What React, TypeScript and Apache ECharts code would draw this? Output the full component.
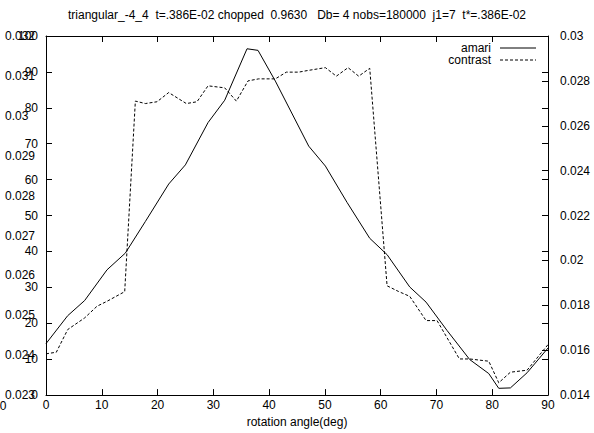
import React, { useEffect, useRef } from "react";
import * as echarts from "echarts";

const titleText =
  "triangular_-4_4  t=.386E-02 chopped  0.9630   Db= 4 nobs=180000  j1=7  t*=.386E-02";
const xAxisName = "rotation angle(deg)";
const seriesNames = ["amari", "contrast"];

const amariAngles = [
  0, 3.89, 6.93, 10.94, 14.23, 17.81, 22.0, 24.99, 29.05, 32.04, 36.04, 38.01,
  41.12, 47.1, 50.09, 53.97, 58.04, 61.15, 65.21, 68.14, 71.9, 75.97, 79.38,
  81.17, 83.26, 86.25, 90,
];
const amariValues = [
  0.02429, 0.02499, 0.02537, 0.02614, 0.02656, 0.02735, 0.02829, 0.02877,
  0.02983, 0.03039, 0.03168, 0.03164, 0.03087, 0.02924, 0.02874, 0.02783,
  0.02693, 0.02652, 0.02571, 0.02533, 0.02462, 0.02389, 0.02354, 0.02317,
  0.02318, 0.02356, 0.02418,
];

const contrastAngles = [
  0, 1.85, 3.89, 6.93, 9.15, 10.94, 14.11, 16.02, 17.81, 19.9, 22.0, 25.16,
  27.07, 29.05, 32.04, 34.13, 36.22, 38.13, 41.12, 43.09, 45.3, 47.1, 50.09,
  52.06, 54.15, 56.06, 58.04, 61.15, 63.18, 65.21, 68.14, 70.11, 74.12, 75.97,
  79.38, 81.17, 83.26, 86.25, 90,
];
const contrastValues = [
  0.01584, 0.01591, 0.01692, 0.01744, 0.01796, 0.01818, 0.01861, 0.0271,
  0.02699, 0.02707, 0.02748, 0.02699, 0.02707, 0.02778, 0.02769, 0.0271,
  0.028, 0.02809, 0.02809, 0.02839, 0.02839, 0.02847, 0.02859, 0.02821,
  0.02859, 0.02821, 0.02856, 0.01887, 0.01862, 0.0184, 0.01732, 0.01732,
  0.01561, 0.01561, 0.01551, 0.01455, 0.01502, 0.01511, 0.01625,
];

// axis ranges
const xRange = [0, 90, 10];
const yPercentRange = [0, 100, 10];
const yLeftRange = [0.023, 0.032, 0.001];
const yRightRange = [0.014, 0.03, 0.002];

const FONT = "'Liberation Sans', Arial, sans-serif";
const FS = 12;
const fmt = (v: number) => String(+Number(v).toFixed(3));

export default function App() {
  const ref = useRef<HTMLDivElement>(null);
  useEffect(() => {
    if (!ref.current) return;
    const chart = echarts.init(ref.current, null, { renderer: "svg" });
    const lineCol = "#000";
    const tickLen = 6;
    chart.setOption({
      animation: false,
      backgroundColor: "#fff",
      textStyle: { fontFamily: FONT },
      title: {
        text: titleText,
        left: "center",
        top: 4,
        textStyle: {
          fontFamily: FONT,
          fontSize: FS,
          fontWeight: "normal",
          color: "#000",
        },
      },
      grid: { left: 46, right: 46, top: 36, bottom: 37, containLabel: false },
      xAxis: [
        {
          type: "value",
          position: "bottom",
          min: xRange[0],
          max: xRange[1],
          interval: xRange[2],
          name: xAxisName,
          nameLocation: "middle",
          nameGap: 18,
          nameTextStyle: { fontFamily: FONT, fontSize: FS, color: "#000" },
          axisLine: { show: true, onZero: false, lineStyle: { color: lineCol, width: 1 } },
          axisTick: { show: true, inside: true, length: tickLen, lineStyle: { color: lineCol } },
          axisLabel: { show: true, margin: 4, fontFamily: FONT, fontSize: FS, color: "#000" },
          splitLine: { show: false },
        },
        {
          type: "value",
          position: "top",
          min: xRange[0],
          max: xRange[1],
          interval: xRange[2],
          axisLine: { show: true, onZero: false, lineStyle: { color: lineCol, width: 1 } },
          axisTick: { show: true, inside: true, length: tickLen, lineStyle: { color: lineCol } },
          axisLabel: { show: false },
          splitLine: { show: false },
        },
      ],
      yAxis: [
        {
          type: "value",
          position: "left",
          min: yPercentRange[0],
          max: yPercentRange[1],
          interval: yPercentRange[2],
          axisLine: { show: true, onZero: false, lineStyle: { color: lineCol, width: 1 } },
          axisTick: { show: true, inside: true, length: tickLen, lineStyle: { color: lineCol } },
          axisLabel: { show: true, margin: 8, fontFamily: FONT, fontSize: FS, color: "#000" },
          splitLine: { show: false },
        },
        {
          type: "value",
          position: "left",
          min: yLeftRange[0],
          max: yLeftRange[1],
          interval: yLeftRange[2],
          axisLine: { show: false, onZero: false },
          axisTick: { show: false },
          axisLabel: {
            show: true,
            margin: 41,
            align: "left",
            formatter: fmt,
            fontFamily: FONT,
            fontSize: FS,
            color: "#000",
          },
          splitLine: { show: false },
        },
        {
          type: "value",
          position: "right",
          min: yRightRange[0],
          max: yRightRange[1],
          interval: yRightRange[2],
          axisLine: { show: true, onZero: false, lineStyle: { color: lineCol, width: 1 } },
          axisTick: { show: true, inside: true, length: tickLen, lineStyle: { color: lineCol } },
          axisLabel: {
            show: true,
            margin: 12,
            formatter: fmt,
            fontFamily: FONT,
            fontSize: FS,
            color: "#000",
          },
          splitLine: { show: false },
        },
        {
          type: "value",
          position: "right",
          min: yPercentRange[0],
          max: yPercentRange[1],
          interval: yPercentRange[2],
          axisLine: { show: false, onZero: false },
          axisTick: { show: true, inside: true, length: tickLen, lineStyle: { color: lineCol } },
          axisLabel: { show: false },
          splitLine: { show: false },
        },
      ],
      series: [
        {
          name: seriesNames[0],
          type: "line",
          xAxisIndex: 0,
          yAxisIndex: 1,
          symbol: "none",
          showSymbol: false,
          lineStyle: { color: "#000", width: 1 },
          data: amariAngles.map((a, i) => [a, amariValues[i]]),
        },
        {
          name: seriesNames[1],
          type: "line",
          xAxisIndex: 0,
          yAxisIndex: 2,
          symbol: "none",
          showSymbol: false,
          lineStyle: { color: "#000", width: 1, type: [3, 2] },
          data: contrastAngles.map((a, i) => [a, contrastValues[i]]),
        },
      ],
      graphic: [
        {
          type: "text",
          x: 491,
          y: 48,
          style: {
            text: seriesNames[0],
            font: `${FS}px ${FONT}`,
            fill: "#000",
            textAlign: "right",
            textVerticalAlign: "middle",
          },
        },
        {
          type: "line",
          shape: { x1: 500, y1: 48, x2: 536, y2: 48 },
          style: { stroke: "#000", lineWidth: 1 },
        },
        {
          type: "text",
          x: 491,
          y: 60,
          style: {
            text: seriesNames[1],
            font: `${FS}px ${FONT}`,
            fill: "#000",
            textAlign: "right",
            textVerticalAlign: "middle",
          },
        },
        {
          type: "line",
          shape: { x1: 500, y1: 60, x2: 536, y2: 60 },
          style: { stroke: "#000", lineWidth: 1, lineDash: [3, 2] },
        },
        {
          type: "text",
          x: 3,
          y: 406,
          style: {
            text: "0",
            font: `${FS}px ${FONT}`,
            fill: "#000",
            textAlign: "center",
            textVerticalAlign: "middle",
          },
        },
      ],
    });
    return () => chart.dispose();
  }, []);
  return (
    <div
      ref={ref}
      style={{ position: "fixed", left: 0, top: 0, width: 594, height: 433, background: "#fff" }}
    />
  );
}
